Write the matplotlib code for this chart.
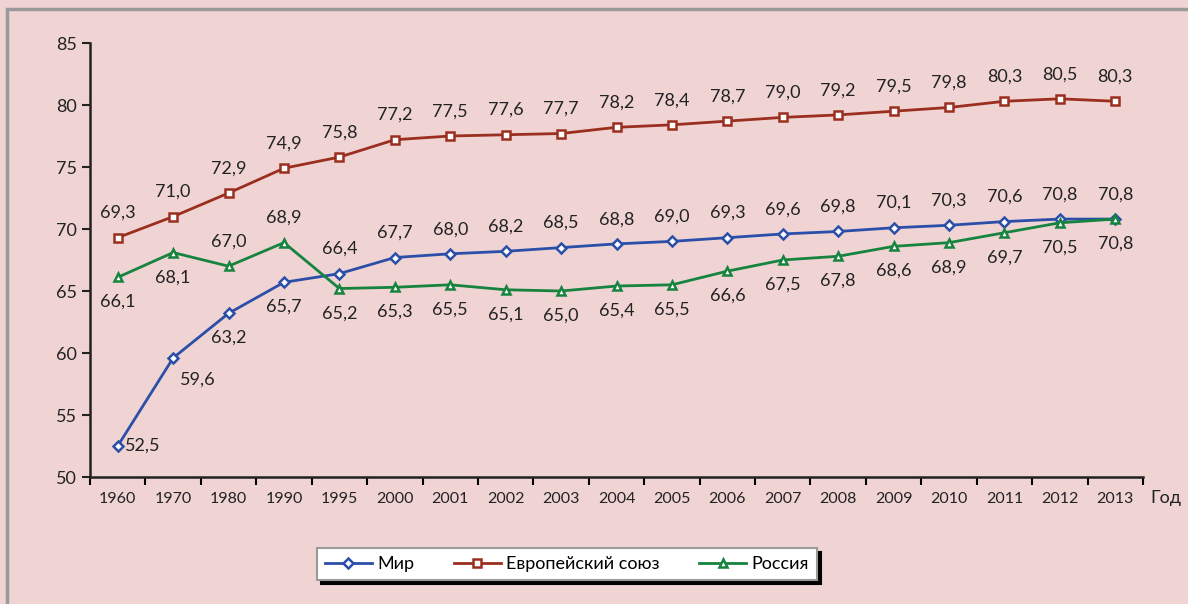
import matplotlib.pyplot as plt
from matplotlib.patches import Rectangle

plt.rcParams['font.family'] = ['Lato', 'DejaVu Sans']

years = ['1960', '1970', '1980', '1990', '1995', '2000', '2001', '2002', '2003', '2004',
         '2005', '2006', '2007', '2008', '2009', '2010', '2011', '2012', '2013']
world = [52.5, 59.6, 63.2, 65.7, 66.4, 67.7, 68.0, 68.2, 68.5, 68.8,
         69.0, 69.3, 69.6, 69.8, 70.1, 70.3, 70.6, 70.8, 70.8]
eu = [69.3, 71.0, 72.9, 74.9, 75.8, 77.2, 77.5, 77.6, 77.7, 78.2,
      78.4, 78.7, 79.0, 79.2, 79.5, 79.8, 80.3, 80.5, 80.3]
russia = [66.1, 68.1, 67.0, 68.9, 65.2, 65.3, 65.5, 65.1, 65.0, 65.4,
          65.5, 66.6, 67.5, 67.8, 68.6, 68.9, 69.7, 70.5, 70.8]

# label placement: 'a' above, 'b' below, 'r' right, 'br' below-right
world_pos = ['r', 'br', 'b', 'b'] + ['a'] * 15
russia_pos = ['b', 'b', 'a', 'a'] + ['b'] * 15

bg = '#f0d4d4'
c_world = '#2b4fa8'
c_eu = '#9a2e1f'
c_rus = '#16833f'

fig = plt.figure(figsize=(11.88, 6.04), dpi=100, facecolor=bg)
fig.patches.append(Rectangle((7 / 1188, -0.1), 1.2, (604 - 9) / 604 + 0.1,
                             transform=fig.transFigure, fill=False,
                             edgecolor='#9a9a9a', lw=2.5))
ax = fig.add_axes([90 / 1188, 1 - 477 / 604, (1143 - 90) / 1188, (477 - 43) / 604])
ax.set_facecolor(bg)

x = list(range(len(years)))
ax.plot(x, world, color=c_world, lw=2, marker='D', ms=5.5, mfc='white', mew=1.8,
        label='Мир')
ax.plot(x, eu, color=c_eu, lw=2, marker='s', ms=5.5, mfc='white', mew=1.8,
        label='Европейский союз')
ax.plot(x, russia, color=c_rus, lw=2, marker='^', ms=5.5, mfc='white', mew=1.8,
        label='Россия')

offsets = {'a': (0, 12, 'center', 'bottom'), 'b': (0, -12, 'center', 'top'),
           'r': (5, 0, 'left', 'center'), 'br': (5, -10, 'left', 'top')}


def lbl(v):
    return f'{v:.1f}'.replace('.', ',')


for i, v in enumerate(eu):
    ax.annotate(lbl(v), (i, v), xytext=(0, 12), textcoords='offset points',
                ha='center', va='bottom', fontsize=13, color='#222222')
for data, pos in [(world, world_pos), (russia, russia_pos)]:
    for i, v in enumerate(data):
        dx, dy, ha, va = offsets[pos[i]]
        ax.annotate(lbl(v), (i, v), xytext=(dx, dy), textcoords='offset points',
                    ha=ha, va=va, fontsize=13, color='#222222')

ax.set_xlim(-0.5, len(years) - 0.5)
ax.set_ylim(50, 85)
ax.set_yticks(range(50, 86, 5))
ax.set_xticks(x)
ax.set_xticklabels(years, fontsize=11.5, color='#222222')
ax.set_xticks([i - 0.5 for i in range(len(years) + 1)], minor=True)
ax.tick_params(axis='x', which='major', length=0, pad=11)
ax.tick_params(axis='x', which='minor', length=6, width=1.5, direction='out')
ax.tick_params(axis='y', length=6, width=1.5, labelsize=13, colors='#222222')
for s in ['top', 'right']:
    ax.spines[s].set_visible(False)
for s in ['left', 'bottom']:
    ax.spines[s].set_linewidth(1.8)
    ax.spines[s].set_color('#222222')

fig.text(1150 / 1188, 1 - 498 / 604, 'Год', fontsize=13, color='#222222',
         va='center', ha='left')

leg = fig.legend(loc='center', bbox_to_anchor=(567 / 1188, 1 - 564 / 604), ncol=3,
                 fontsize=13, frameon=True, fancybox=False,
                 shadow={'color': 'black', 'alpha': 1, 'ox': 3, 'oy': -3},
                 handlelength=2.6, handletextpad=0.3, columnspacing=2.2,
                 borderpad=0.45, framealpha=1)
leg.get_frame().set_edgecolor('#9a9a9a')
leg.get_frame().set_linewidth(1.5)

fig.savefig('out.png', dpi=100, facecolor=bg)
